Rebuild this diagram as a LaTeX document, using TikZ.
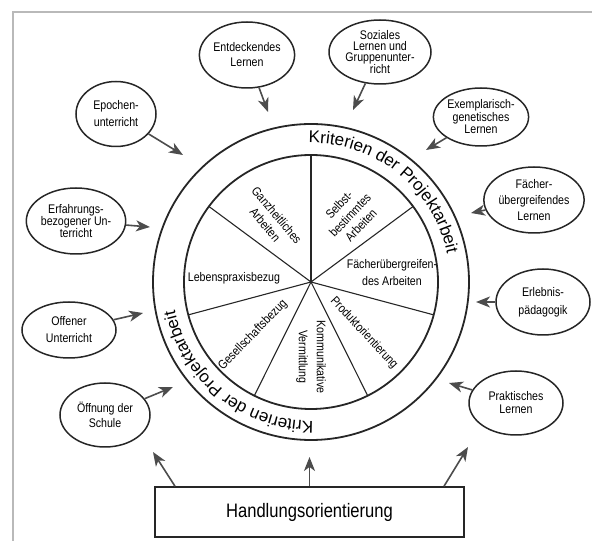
\documentclass[tikz,border=0pt]{standalone}
\usepackage{fontspec}
\setmainfont{Liberation Sans}[FakeStretch=0.85]
\newfontfamily\ringfont{Liberation Sans}
\usetikzlibrary{shapes.geometric,arrows.meta,decorations.text,calc}
\begin{document}
\begin{tikzpicture}[x=1pt,y=1pt,
  bubble/.style={ellipse, draw=black!85, line width=1.5pt, inner sep=0pt, align=center,
     font=\fontsize{12.5}{15}\selectfont},
  sector/.style={align=center, inner sep=0pt, font=\fontsize{12.5}{15}\selectfont},
  arr/.style={draw=black!70, line width=1.6pt, -{Stealth[length=14pt,width=11pt,inset=4pt]}},
  rim/.style={draw=black!85, line width=1.8pt},
  spoke/.style={draw=black!85, line width=1.1pt}]
\useasboundingbox (0,0) rectangle (592,541);
\draw[gray!55, line width=2pt] (13,0) -- (13,529) -- (592,529);

% wheel
\coordinate (C) at (311,259);
\draw[rim] (C) circle[radius=158];
\draw[rim] (C) circle[radius=127];
\foreach \a in {90,36.5,-15,-63.5,243.5,195,143.5}
  \draw[spoke] (C) -- ++(\a:127);

\path[decorate, decoration={text along path,
   text={|\ringfont\fontsize{17}{17}\selectfont|Kriterien der Projektarbeit}}]
   ($(C)+(91:139)$) arc[start angle=91, end angle=-15, radius=139];
\path[decorate, decoration={text along path,
   text={|\ringfont\fontsize{17}{17}\selectfont|Kriterien der Projektarbeit}}]
   ($(C)+(-89:139)$) arc[start angle=-89, end angle=-195, radius=139];

% sector texts
\node[sector, rotate=-50] (s1) at (271,321) {Ganzheitliches\\Arbeiten};
\node[sector, rotate=47] (s2) at (350,326) {Selbst-\\bestimmtes\\Arbeiten};
\node[sector, font=\fontsize{12.5}{17}\selectfont] (s3) at (392,268) {Fächerübergreifen-\\des Arbeiten};
\node[sector, rotate=-47] (s4) at (364,208) {Produktorientierung};
\node[sector, rotate=-90, font=\fontsize{12.5}{18}\selectfont] (s5) at (311,184) {Kommunikative\\Vermittlung};
\node[sector, rotate=46] (s6) at (253,206) {Gesellschaftsbezug};
\node[sector] (s7) at (234,263) {Lebenspraxisbezug};

% bubbles
\node[bubble, minimum width=95, minimum height=66] (ent) at (247,486) {Entdeckendes\\Lernen};
\node[bubble, minimum width=102, minimum height=64, font=\fontsize{12.5}{11}\selectfont] (soz) at (380,489) {Soziales\\Lernen und\\Gruppenunter-\\richt};
\node[bubble, minimum width=80, minimum height=65, font=\fontsize{12.5}{17}\selectfont] (epo) at (116,427) {Epochen-\\unterricht};
\node[bubble, minimum width=92, minimum height=58, font=\fontsize{12.5}{12.5}\selectfont] (exe) at (481,424) {Exemplarisch-\\genetisches\\Lernen};
\node[bubble, minimum width=98, minimum height=66, font=\fontsize{12.5}{12}\selectfont] (erf) at (76,320) {Erfahrungs-\\bezogener Un-\\terricht};
\node[bubble, minimum width=96, minimum height=66, font=\fontsize{12.5}{16}\selectfont] (fae) at (534,341) {Fächer-\\übergreifendes\\Lernen};
\node[bubble, minimum width=94, minimum height=56, font=\fontsize{12.5}{17}\selectfont] (off) at (69,211) {Offener\\Unterricht};
\node[bubble, minimum width=94, minimum height=66, font=\fontsize{12.5}{18}\selectfont] (erl) at (543,239) {Erlebnis-\\pädagogik};
\node[bubble, minimum width=90, minimum height=64] (oef) at (105,126) {Öffnung der\\Schule};
\node[bubble, minimum width=94, minimum height=64, font=\fontsize{12.5}{13}\selectfont] (pra) at (516,138) {Praktisches\\Lernen};

\node[draw=black!85, line width=1.5pt, minimum width=309, minimum height=50, inner sep=0pt,
   font=\fontsize{19.5}{20}\selectfont] (box) at (309.5,29) {Handlungsorientierung};

% arrow tips
\coordinate (a1) at (268,429);
\coordinate (a2) at (353,431);
\coordinate (a3) at (183,386);
\coordinate (a4) at (426,391);
\coordinate (a5) at (150,314);
\coordinate (a6) at (471,328);
\coordinate (a7) at (143,228);
\coordinate (a8) at (476,239);
\coordinate (a9) at (173,154);
\coordinate (a10) at (449,158);
\coordinate (b1) at (153,89);
\coordinate (b2) at (309.5,84);
\coordinate (b3) at (468,94);

\draw[arr] (ent) -- (a1);
\draw[arr] (soz) -- (a2);
\draw[arr] (epo) -- (a3);
\draw[arr] (exe) -- (a4);
\draw[arr] (erf) -- (a5);
\draw[arr] (fae) -- (a6);
\draw[arr] (off) -- (a7);
\draw[arr] (erl) -- (a8);
\draw[arr] (oef) -- (a9);
\draw[arr] (pra) -- (a10);
\draw[arr] ([xshift=-134.5pt]box.north) -- (b1);
\draw[arr] (box.north) -- (b2);
\draw[arr] ([xshift=134.5pt]box.north) -- (b3);
\end{tikzpicture}
\end{document}
